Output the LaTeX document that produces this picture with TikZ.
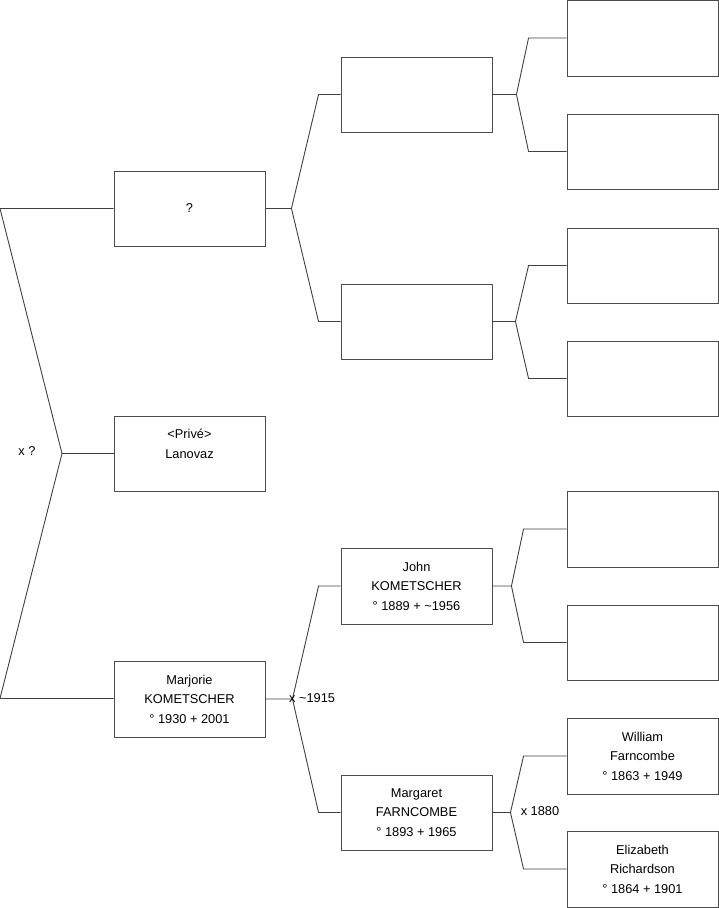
\documentclass[tikz,border=0pt]{standalone}
\usepackage{fontspec}
\setmainfont{Liberation Sans}
\begin{document}
\begin{tikzpicture}[x=1pt,y=-1pt,
  pbox/.style={draw=black!70, line width=0.9pt, minimum width=151pt, minimum height=75pt, inner sep=0pt, align=center,
    font=\fontsize{12.8pt}{19.5pt}\selectfont},
  tallbox/.style={pbox, minimum height=76pt},
  conn/.style={draw=black!75, line width=0.9pt},
  lbl/.style={inner sep=0pt, font=\fontsize{12.8pt}{15pt}\selectfont}]
\useasboundingbox (0,0) rectangle (719,908);

% column 1
\node[pbox] (q) at (189.5,208.5) {?};
\node[pbox] (priv) at (189.5,453.5) {\rule{0pt}{15.5pt}<Privé>\\Lanovaz\\\strut};
\node[tallbox] (mar) at (189.5,699) {Marjorie\\KOMETSCHER\\° 1930 + 2001};

% column 2
\node[pbox] (b1) at (416.5,94.5) {};
\node[pbox] (b2) at (416.5,321.5) {};
\node[tallbox] (john) at (416.5,586) {John\\KOMETSCHER\\° 1889 + \textasciitilde1956};
\node[pbox] (marg) at (416.5,812.5) {Margaret\\FARNCOMBE\\° 1893 + 1965};

% column 3
\node[tallbox] (c1) at (642.5,38) {};
\node[pbox] (c2) at (642.5,151.5) {};
\node[pbox] (c3) at (642.5,265.5) {};
\node[pbox] (c4) at (642.5,378.5) {};
\node[tallbox] (c5) at (642.5,529) {};
\node[pbox] (c6) at (642.5,642.5) {};
\node[tallbox] (will) at (642.5,756) {William\\Farncombe\\° 1863 + 1949};
\node[tallbox] (eliz) at (642.5,869) {Elizabeth\\Richardson\\° 1864 + 1901};

% left connector
\coordinate (l1) at (0,208.5);
\coordinate (j0) at (62,453.5);
\coordinate (l2) at (0,698.5);
\draw[conn] (q.west) -- (l1) -- (j0) -- (l2) -- (mar.west |- l2);
\draw[conn] (j0) -- (priv.west);
\node[lbl] (lx) at (27,451) {x ?};

% column 1 -> column 2
\draw[conn] (q.east) -- ++(26,0) coordinate (jq) -- ([xshift=-22pt]b1.west) -- (b1.west);
\draw[conn] (jq) -- ([xshift=-22pt]b2.west) -- (b2.west);
\draw[conn] (mar.east) -- ++(27,0) coordinate (jm) -- ([xshift=-22pt]john.west) -- (john.west);
\draw[conn] (jm) -- ([xshift=-22pt]marg.west) -- (marg.west);
\node[lbl, anchor=west] (lm) at (289,698) {x \textasciitilde1915};

% column 2 -> column 3
\draw[conn] (b1.east) -- ++(24,0) coordinate (jb1) -- ([xshift=-38pt]c1.west) -- (c1.west);
\draw[conn] (jb1) -- ([xshift=-38pt]c2.west) -- (c2.west);
\draw[conn] (b2.east) -- ++(23,0) coordinate (jb2) -- ([xshift=-38pt]c3.west) -- (c3.west);
\draw[conn] (jb2) -- ([xshift=-38pt]c4.west) -- (c4.west);
\draw[conn] (john.east) -- ++(19,0) coordinate (jj) -- ([xshift=-43pt]c5.west) -- (c5.west);
\draw[conn] (jj) -- ([xshift=-43pt]c6.west) -- (c6.west);
\draw[conn] (marg.east) -- ++(18,0) coordinate (jg) -- ([xshift=-43pt]will.west) -- (will.west);
\draw[conn] (jg) -- ([xshift=-43pt]eliz.west) -- (eliz.west);
\node[lbl] (lg) at (540,811) {x 1880};
\end{tikzpicture}
\end{document}
